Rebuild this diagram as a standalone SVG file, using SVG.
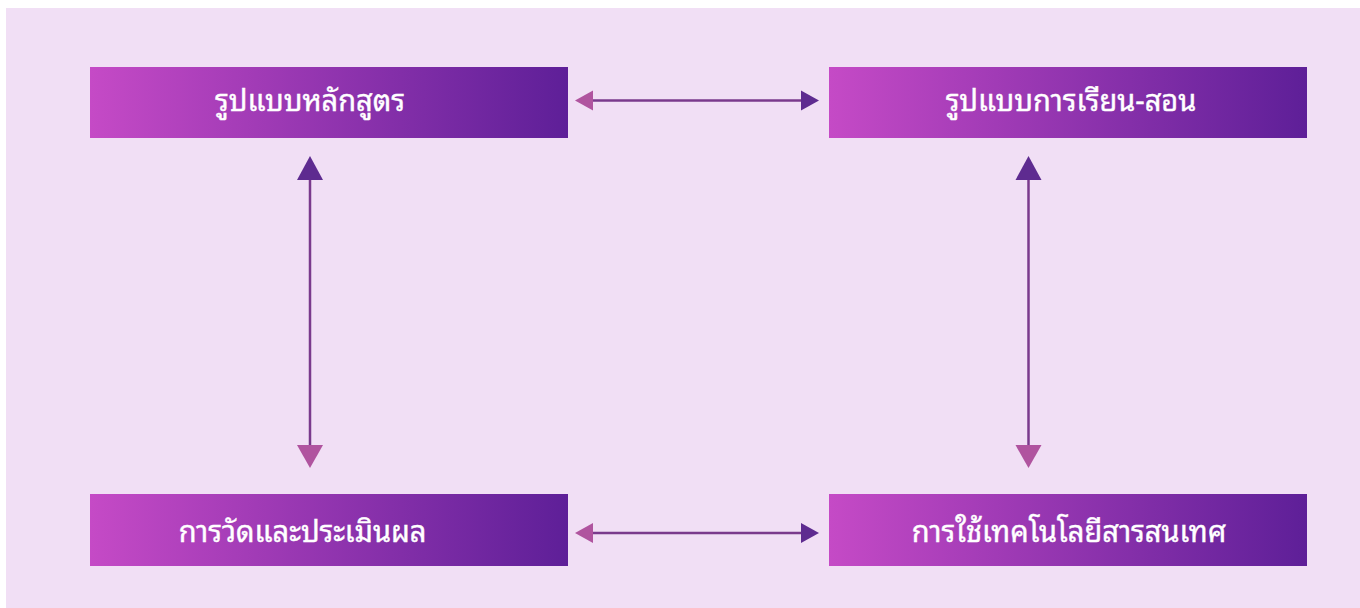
<svg xmlns="http://www.w3.org/2000/svg" width="1360" height="608" viewBox="0 0 1360 608">
  <defs>
    <linearGradient id="boxFill" x1="0" y1="0" x2="1" y2="0">
      <stop offset="0" stop-color="#c54ac6"/>
      <stop offset="1" stop-color="#5e1f98"/>
    </linearGradient>
    <style>
      .box { fill: url(#boxFill); }
      .label { fill: #ffffff; stroke: #ffffff; stroke-width: 0.4; font-family: "Noto Sans Thai Looped", "Noto Sans Thai", "Noto Sans", "DejaVu Sans", sans-serif; font-size: 29px; font-weight: 400; text-anchor: middle; }
      .line { stroke: #7a3a8c; stroke-width: 2.5; fill: none; }
      .headA { fill: #b0549f; }
      .headB { fill: #5e2b90; }
    </style>
  </defs>

  <rect x="6" y="8" width="1354" height="600" fill="#f1dff5"/>

  <g id="node-curriculum">
    <rect class="box" x="90" y="67" width="478" height="71"/>
    <text class="label" x="310" y="111">รูปแบบหลักสูตร</text>
  </g>
  <g id="node-teaching">
    <rect class="box" x="829" y="67" width="478" height="71"/>
    <text class="label" x="1071" y="111">รูปแบบการเรียน-สอน</text>
  </g>
  <g id="node-assessment">
    <rect class="box" x="90" y="494" width="478" height="72"/>
    <text class="label" x="302.5" y="542">การวัดและประเมินผล</text>
  </g>
  <g id="node-ict">
    <rect class="box" x="829" y="494" width="478" height="72"/>
    <text class="label" x="1069" y="542">การใช้เทคโนโลยีสารสนเทศ</text>
  </g>

  <g id="connectors">
    <!-- top horizontal -->
    <line class="line" x1="592" y1="100.5" x2="802" y2="100.5"/>
    <polygon class="headA" points="575,100.5 593,90.5 593,110.5"/>
    <polygon class="headB" points="819,100.5 801,90.5 801,110.5"/>
    <!-- bottom horizontal -->
    <line class="line" x1="592" y1="533" x2="802" y2="533"/>
    <polygon class="headA" points="575,533 593,523 593,543"/>
    <polygon class="headB" points="819,533 801,523 801,543"/>
    <!-- left vertical -->
    <line class="line" x1="310" y1="179" x2="310" y2="446"/>
    <polygon class="headB" points="310,156 297,180 323,180"/>
    <polygon class="headA" points="310,468 297,445 323,445"/>
    <!-- right vertical -->
    <line class="line" x1="1028.5" y1="179" x2="1028.5" y2="446"/>
    <polygon class="headB" points="1028.5,156 1015.5,180 1041.5,180"/>
    <polygon class="headA" points="1028.5,468 1015.5,445 1041.5,445"/>
  </g>
</svg>
